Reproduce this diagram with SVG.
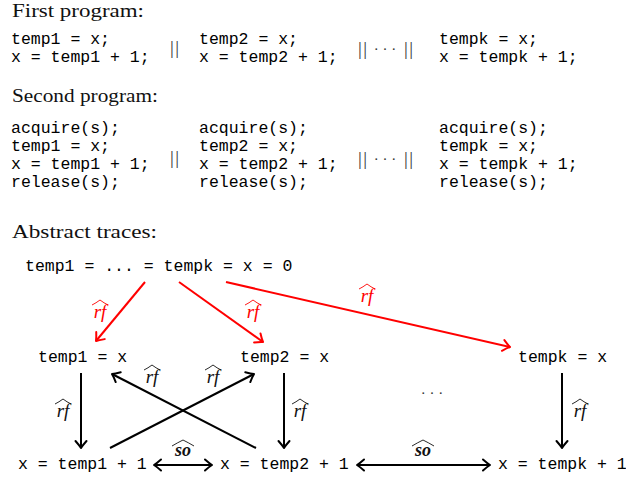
<svg xmlns="http://www.w3.org/2000/svg" width="626" height="479" viewBox="0 0 626 479">
<style>
.h{font-family:"Liberation Serif","Times New Roman",serif;font-size:18.5px;fill:#111}
.m{font-family:"Liberation Mono","Courier New",monospace;font-size:16.5px;fill:#000}
.par{font-family:"Liberation Serif",serif;font-size:19px;fill:#333;letter-spacing:1.5px}
.cd{font-family:"Liberation Serif",serif;font-size:15px;fill:#333;text-anchor:middle}
.lb{font-family:"Liberation Serif",serif;font-style:italic;font-size:19px;text-anchor:middle}
.lbk{fill:#111}
.lbr{fill:#f00}
.so{font-family:"Liberation Serif",serif;font-style:italic;font-weight:bold;font-size:18px;text-anchor:middle;fill:#111}
.hat{fill:none;stroke-width:0.9}
.hk{stroke:#111}
.hr{stroke:#f00}
.ek{stroke:#000;stroke-width:2;fill:none}
.er{stroke:#f00;stroke-width:2;fill:none}
</style>
<defs>
<marker id="ak" viewBox="-10 -8 12 16" refX="0" refY="0" markerWidth="12" markerHeight="16" markerUnits="userSpaceOnUse" orient="auto-start-reverse" overflow="visible">
<path d="M-7,-5.5 Q-2.5,-1.5 0,0 Q-2.5,1.5 -7,5.5" fill="none" stroke="#000" stroke-width="2" stroke-linecap="round" stroke-linejoin="round"/>
</marker>
<marker id="ar" viewBox="-10 -8 12 16" refX="0" refY="0" markerWidth="12" markerHeight="16" markerUnits="userSpaceOnUse" orient="auto-start-reverse" overflow="visible">
<path d="M-7,-5.5 Q-2.5,-1.5 0,0 Q-2.5,1.5 -7,5.5" fill="none" stroke="#f00" stroke-width="2" stroke-linecap="round" stroke-linejoin="round"/>
</marker>
</defs>
<rect width="626" height="479" fill="#fff"/>

<g id="programs">
<text class="h" x="12" y="17" textLength="132" lengthAdjust="spacingAndGlyphs">First program:</text>
<text class="m" x="11" y="44">temp1 = x;</text>
<text class="m" x="11" y="62">x = temp1 + 1;</text>
<text class="par" x="170" y="54">||</text>
<text class="m" x="199" y="44">temp2 = x;</text>
<text class="m" x="199" y="62">x = temp2 + 1;</text>
<text class="par" x="358" y="55">||</text>
<text class="cd" x="385" y="54">· · ·</text>
<text class="par" x="404" y="55">||</text>
<text class="m" x="439" y="44">tempk = x;</text>
<text class="m" x="439" y="62">x = tempk + 1;</text>

<text class="h" x="12" y="102" textLength="146" lengthAdjust="spacingAndGlyphs">Second program:</text>
<text class="m" x="11" y="133">acquire(s);</text>
<text class="m" x="11" y="151">temp1 = x;</text>
<text class="m" x="11" y="169">x = temp1 + 1;</text>
<text class="m" x="11" y="187">release(s);</text>
<text class="par" x="170" y="164">||</text>
<text class="m" x="199" y="133">acquire(s);</text>
<text class="m" x="199" y="151">temp2 = x;</text>
<text class="m" x="199" y="169">x = temp2 + 1;</text>
<text class="m" x="199" y="187">release(s);</text>
<text class="par" x="358" y="165">||</text>
<text class="cd" x="385" y="164">· · ·</text>
<text class="par" x="404" y="165">||</text>
<text class="m" x="439" y="133">acquire(s);</text>
<text class="m" x="439" y="151">tempk = x;</text>
<text class="m" x="439" y="169">x = tempk + 1;</text>
<text class="m" x="439" y="187">release(s);</text>

<text class="h" x="12" y="238" textLength="145" lengthAdjust="spacingAndGlyphs">Abstract traces:</text>
</g>

<g id="n0"><text class="m" x="25" y="271">temp1 = ... = tempk = x = 0</text></g>
<g id="n1"><text class="m" x="38" y="362">temp1 = x</text></g>
<g id="n2"><text class="m" x="240" y="362">temp2 = x</text></g>
<g id="nk"><text class="m" x="518" y="362">tempk = x</text></g>
<g id="w1"><text class="m" x="18" y="469">x = temp1 + 1</text></g>
<g id="w2"><text class="m" x="220" y="469">x = temp2 + 1</text></g>
<g id="wk"><text class="m" x="498" y="469">x = tempk + 1</text></g>
<g id="dots"><text class="cd" x="432" y="398" font-size="18" fill="#111">· · ·</text></g>

<g id="connectors">
<line class="er" x1="145" y1="282" x2="96" y2="341" marker-end="url(#ar)"/>
<line class="er" x1="179" y1="282" x2="263" y2="342" marker-end="url(#ar)"/>
<line class="er" x1="226" y1="282" x2="510" y2="347" marker-end="url(#ar)"/>
<line class="ek" x1="81" y1="373" x2="81" y2="448" marker-end="url(#ak)"/>
<line class="ek" x1="284" y1="373" x2="284" y2="448" marker-end="url(#ak)"/>
<line class="ek" x1="562" y1="373" x2="562" y2="448" marker-end="url(#ak)"/>
<line class="ek" x1="110" y1="448" x2="254" y2="374" marker-end="url(#ak)"/>
<line class="ek" x1="256" y1="448" x2="112" y2="374" marker-end="url(#ak)"/>
<line class="ek" x1="154" y1="465" x2="212" y2="465" marker-start="url(#ak)" marker-end="url(#ak)"/>
<line class="ek" x1="357" y1="465" x2="490" y2="465" marker-start="url(#ak)" marker-end="url(#ak)"/>
</g>

<g id="labels">
<text class="lb lbr" x="100" y="318">rf</text>
<path class="hat hr" d="M92,305 Q96,303 100,300 Q104,303 108,305"/>
<text class="lb lbr" x="253" y="318">rf</text>
<path class="hat hr" d="M245,305 Q249,303 253,300 Q257,303 261,305"/>
<text class="lb lbr" x="367" y="302">rf</text>
<path class="hat hr" d="M359,289 Q363,287 367,284 Q371,287 375,289"/>

<text class="lb lbk" x="63" y="417">rf</text>
<path class="hat hk" d="M55,404 Q59,402 63,399 Q67,402 71,404"/>
<text class="lb lbk" x="300" y="417">rf</text>
<path class="hat hk" d="M292,404 Q296,402 300,399 Q304,402 308,404"/>
<text class="lb lbk" x="580" y="417">rf</text>
<path class="hat hk" d="M572,404 Q576,402 580,399 Q584,402 588,404"/>
<text class="lb lbk" x="152" y="383">rf</text>
<path class="hat hk" d="M144,370 Q148,368 152,365 Q156,368 160,370"/>
<text class="lb lbk" x="213" y="383">rf</text>
<path class="hat hk" d="M205,370 Q209,368 213,365 Q217,368 221,370"/>

<text class="so" x="183" y="456">so</text>
<path class="hat hk" d="M172,446 Q177,443 183,440 Q189,443 194,446"/>
<text class="so" x="423" y="456">so</text>
<path class="hat hk" d="M412,446 Q417,443 423,440 Q429,443 434,446"/>
</g>
</svg>
